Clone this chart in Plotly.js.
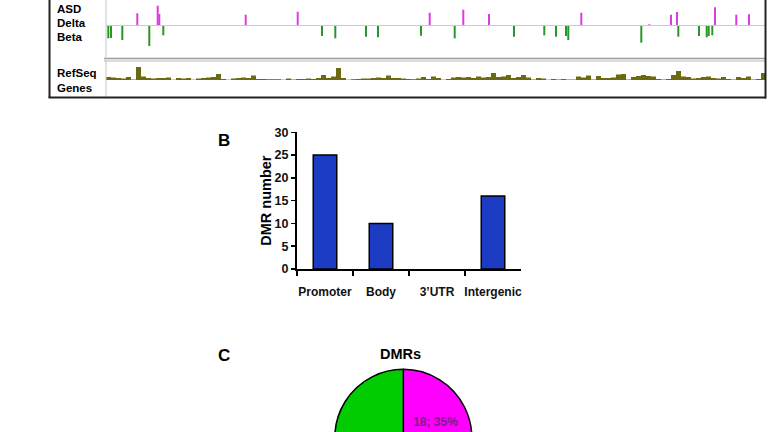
<!DOCTYPE html>
<html>
<head>
<meta charset="utf-8">
<script src="https://cdn.plot.ly/plotly-3.0.1.min.js"></script>
<style>
html, body { margin:0; padding:0; overflow:hidden; background:#fff; width:768px; height:432px; }
#chart { width:768px; height:520px; }
</style>
</head>
<body>
<div id="chart"></div>
<script>
// ---- Panel A: DMR track (position in Mb, delta beta in arbitrary units) ----
const hyperPos = [3.13, 5.17, 5.33, 13.97, 19.17, 32.37, 35.73, 38.30, 47.53, 54.33, 56.50, 57.10, 60.90, 63.03, 64.30];
const hyperVal = [11.7, 19.3, 11.0, 10.3, 13.3, 12.3, 15.3, 11.0, 12.3, 0.8, 10.3, 13.0, 17.7, 10.3, 10.7];
const hypoPos = [0.23, 0.50, 1.63, 4.33, 5.73, 21.60, 22.93, 26.00, 27.20, 31.50, 34.87, 40.80, 43.83, 45.00, 46.00, 46.23, 53.53, 57.23, 59.30, 60.07, 60.27, 60.63];
const hypoVal = [-13.3, -13.0, -15.0, -21.0, -10.3, -11.0, -13.3, -11.7, -12.3, -10.7, -13.3, -11.7, -10.3, -11.7, -11.0, -15.0, -17.7, -11.7, -11.0, -12.3, -11.0, -10.3];

// ---- RefSeq gene density (bins of 0.5 Mb starting at 0) ----
const refseqBinStart = 0;
const refseqBinSize = 0.5;
const refseqDensity = [
  3, 2.5, 2, 1.5, 3, 0.5, 13, 3.5, 2, 1.5,
  2, 2, 2.5, 0.3, 2, 1.5, 2, 0.3, 1.5, 2,
  2.5, 3, 6, 1, 0.3, 1.5, 2, 2.5, 2, 4.5,
  1, 1, 0.8, 0.8, 0.8, 0.3, 1.5, 0.5, 1, 1,
  1.5, 1, 2, 5, 2, 3.5, 12, 2, 0.3, 0.8,
  1, 1.5, 1.5, 2, 2.5, 2, 4.5, 2, 2, 1.5,
  1, 0.8, 1.5, 3, 1, 3.5, 2, 0.3, 1, 2.5,
  3, 2.5, 3, 2, 3.5, 2.5, 3, 7, 3, 3.5,
  5, 2, 3, 5, 2.5, 0.5, 2, 1.5, 0.3, 1,
  0.5, 1, 0.5, 0.5, 3.5, 2.5, 4.5, 0.5, 4, 2,
  2, 2.5, 5.5, 6, 0.5, 3, 4, 5, 4, 3.5,
  1, 0.5, 1, 5, 9, 3.5, 3, 1.5, 2, 3,
  3.5, 2, 1.5, 3, 1, 0.5, 3, 2, 3.5, 0.5,
  1, 7
];
const refseqX = refseqDensity.map((_, i) => refseqBinStart + refseqBinSize * (i + 0.5));

// ---- Panel B: DMR counts by region ----
const regions = ['Promoter', 'Body', '3’UTR', 'Intergenic'];
const dmrCounts = [25, 10, 0, 16];

// ---- Panel C: DMR direction ----
const pieLabels = ['Hypermethylated', 'Hypomethylated'];
const pieValues = [18, 33];

// ---- layout helpers (pixel -> paper) ----
const W = 768, H = 520;
const fx = px => px / W;
const fy = py => 1 - py / H;
const FONT = 'Arial, "Liberation Sans", sans-serif';

const traces = [
  { type:'bar', x: hyperPos, y: hyperVal, width: 0.2, xaxis:'x', yaxis:'y',
    marker:{ color:'#dd3cdd', line:{width:0} }, hoverinfo:'x+y' },
  { type:'bar', x: hypoPos, y: hypoVal, width: 0.2, xaxis:'x', yaxis:'y',
    marker:{ color:'#2a962a', line:{width:0} }, hoverinfo:'x+y' },
  { type:'bar', x: refseqX, y: refseqDensity, width: refseqBinSize, xaxis:'x', yaxis:'y2',
    marker:{ color:'#6b6a10', line:{width:0} }, hoverinfo:'x+y' },
  { type:'bar', x: regions, y: dmrCounts, width: 0.42, xaxis:'x3', yaxis:'y3',
    marker:{ color:'#1c3cc4', line:{color:'#000', width: dmrCounts.map(v => v > 0 ? 1.5 : 0)} } },
  { type:'pie', labels: pieLabels, values: pieValues, sort:false, direction:'clockwise', rotation:0,
    domain:{ x:[fx(334.8), fx(471.8)], y:[fy(506.3), fy(369.3)] },
    marker:{ colors:['#ff00ff', '#00cc00'], line:{color:'#000', width:1.5} },
    texttemplate:['<b>%{value}; %{percent:.0%}</b>', ''], textposition:'inside', insidetextorientation:'horizontal',
    textfont:{ family: FONT, size: 12, color:'#7a1f88' },
    showlegend:false }
];

const lineShape = (x0, y0, x1, y1, color, width) => ({
  type:'line', xref:'paper', yref:'paper', x0: fx(x0), y0: fy(y0), x1: fx(x1), y1: fy(y1),
  line:{ color, width }
});

const labelAnn = (text, px, py, size, xanchor) => ({
  text, x: fx(px), y: fy(py), xref:'paper', yref:'paper', showarrow:false,
  xanchor: xanchor || 'left', yanchor:'middle',
  font:{ family: FONT, size, color:'#000', weight:'bold' }
});

const layout = {
  width: W, height: H,
  margin:{ l:0, r:0, t:0, b:0 },
  paper_bgcolor:'#fff', plot_bgcolor:'rgba(0,0,0,0)',
  showlegend:false, barmode:'overlay',
  xaxis:{ domain:[fx(106), fx(765)], range:[0, 65.9], visible:false, fixedrange:true },
  yaxis:{ domain:[fy(50), fy(0)], range:[-25, 25], visible:false, anchor:'x' },
  yaxis2:{ domain:[fy(80), fy(62)], range:[0, 18], visible:false, anchor:'x' },
  xaxis3:{ domain:[fx(297), fx(521)], anchor:'y3', type:'category', range:[-0.5, 3.5],
    showline:true, linecolor:'#000', linewidth:2, ticks:'outside', tickson:'boundaries',
    ticklen:5, tickwidth:1.5, tickcolor:'#000', ticklabelstandoff:11, tickangle:0,
    tickfont:{ family: FONT, size:12, color:'#111', weight:'bold' }, showgrid:false, zeroline:false },
  yaxis3:{ domain:[fy(269), fy(132.3)], anchor:'x3', range:[0, 30], dtick:5,
    showline:true, linecolor:'#000', linewidth:2, ticks:'outside', ticklen:4, tickwidth:1.5, tickcolor:'#000',
    tickfont:{ family: FONT, size:12.5, color:'#111', weight:'bold' }, showgrid:false, zeroline:false,
    title:{ text:'DMR number', standoff:0, font:{ family: FONT, size:14.5, color:'#000', weight:'bold' } } },
  shapes:[
    lineShape(106, 25.5, 765, 25.5, '#c9c9dc', 1),
    lineShape(104, 58.5, 765, 58.5, '#9a9a9a', 1.5),
    lineShape(104, 61, 765, 61, '#b5b5b5', 1),
    lineShape(106, 0, 106, 97, '#c8c8c8', 1),
    lineShape(49.5, 0, 49.5, 97.5, '#222', 2),
    lineShape(48.5, 97.5, 766, 97.5, '#222', 2),
    lineShape(765.5, 0, 765.5, 98.5, '#222', 2)
  ],
  annotations:[
    labelAnn('ASD', 55, 8.5, 11.5),
    labelAnn('Delta', 55, 23, 11.5),
    labelAnn('Beta', 55, 37, 11.5),
    labelAnn('RefSeq', 55, 73, 11.5),
    labelAnn('Genes', 55, 87.5, 11.5),
    labelAnn('B', 224, 140.5, 17, 'center'),
    labelAnn('C', 224, 355, 17, 'center'),
    labelAnn('DMRs', 400, 353.5, 14.5, 'center')
  ]
};

Plotly.newPlot('chart', traces, layout, { displayModeBar:false, staticPlot:true });
</script>
</body>
</html>
